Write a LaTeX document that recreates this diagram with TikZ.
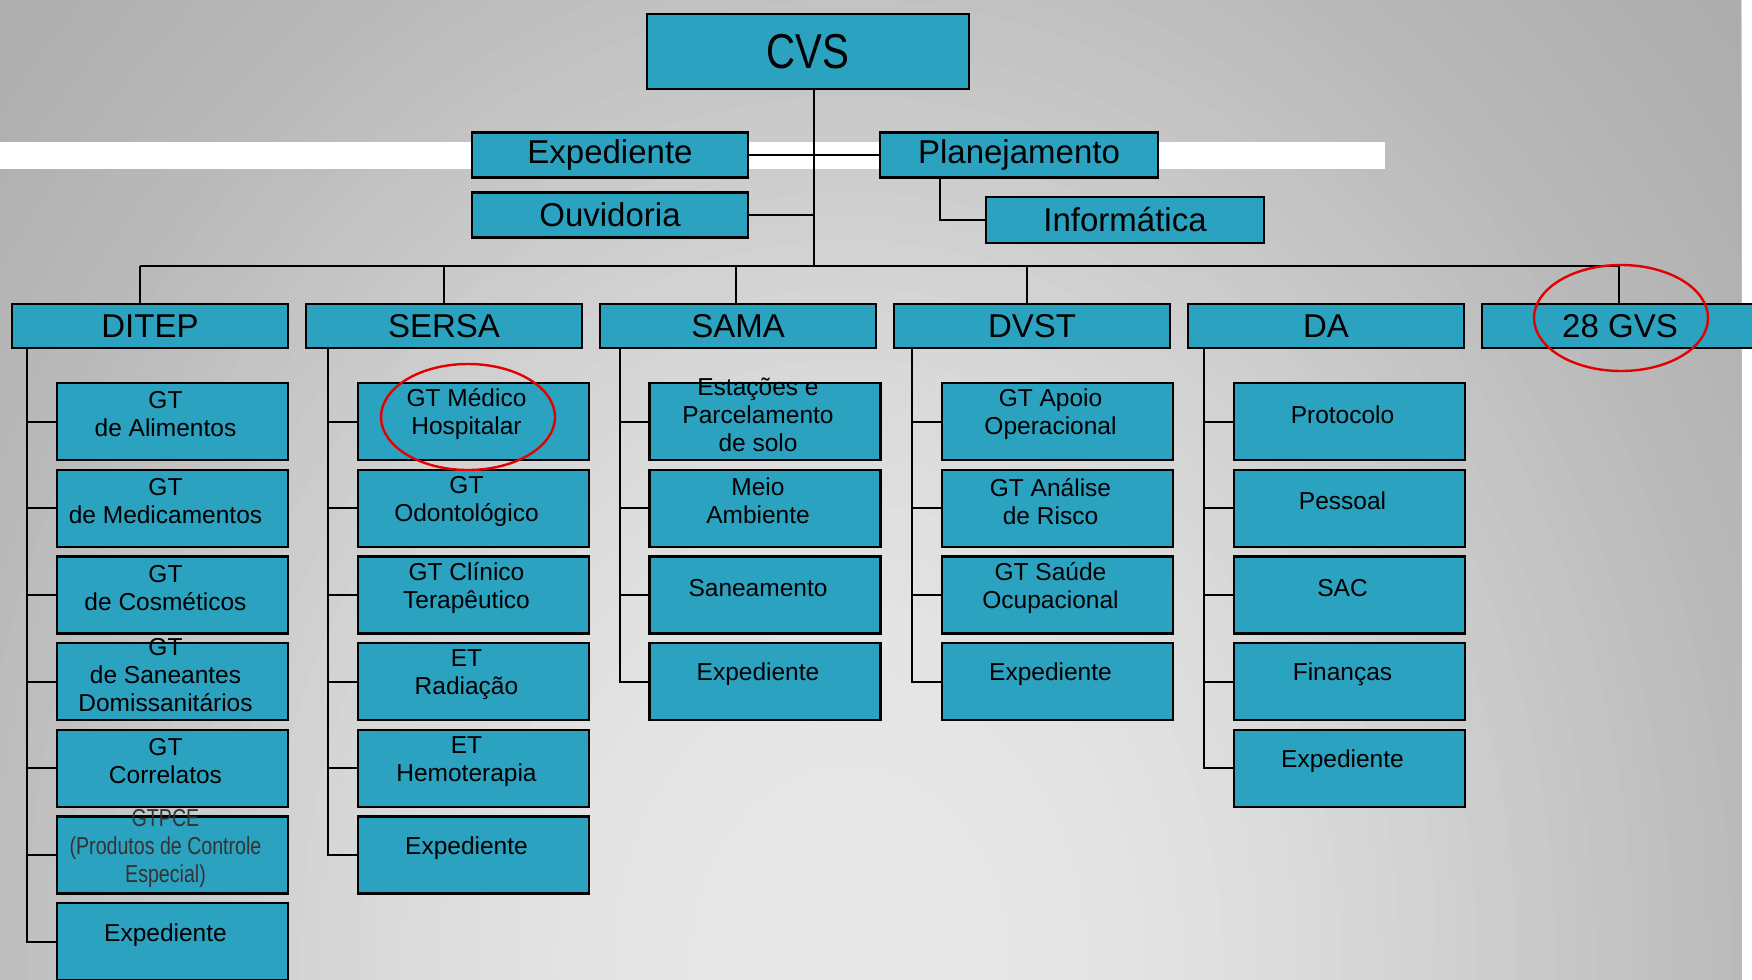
\documentclass[tikz,border=0pt]{standalone}
\usepackage{fontspec}
\setmainfont{Liberation Sans}
\newfontfamily\narrowfont[FakeStretch=0.8]{Liberation Sans}
\newfontfamily\chieffont[FakeStretch=0.82]{Liberation Sans}
\usetikzlibrary{positioning}

\definecolor{orgteal}{HTML}{2BA2C0}

% text of a unit box, a bit up and left of the centre
\newcommand{\unittext}[1]{\parbox[c][77pt][c]{231pt}{\centering
  \rightskip=14pt plus 1fil\relax #1\par\vspace{14pt}}}

\begin{document}
\begin{tikzpicture}[x=1pt, y=-1pt]
\tikzstyle{chief}=[draw=black, line width=2.2pt, fill=orgteal, outer sep=0pt, inner sep=0pt, minimum width=322pt, minimum height=75pt, font=\chieffont\fontsize{49}{52}\selectfont]
\tikzstyle{staff}=[draw=black, line width=2.2pt, fill=orgteal, outer sep=0pt, inner sep=0pt, minimum width=276pt, minimum height=45pt, node distance=15pt, font=\fontsize{33}{36}\selectfont]
\tikzstyle{dept}=[staff, minimum height=44pt, node distance=18pt]
\tikzstyle{unit}=[draw=black, line width=2.2pt, fill=orgteal, outer sep=0pt, inner sep=0pt, minimum width=231pt, minimum height=77pt, node distance=9.7pt, font=\fontsize{24.5}{28}\selectfont]
\tikzstyle{link}=[line width=2pt]
\tikzstyle{thinlink}=[line width=1.2pt]
\tikzstyle{ring}=[draw=red!90!black, line width=2.4pt]
  \useasboundingbox (0,0) rectangle (1752,979);
  % backdrop
  \fill[white] (0,0) rectangle (1752,979);
  \begin{scope}
    \clip (0,0) rectangle (1741,979);
    \fill[black!34] (0,0) rectangle (1741,979);
    \foreach \k in {65,...,1} {
      \pgfmathsetmacro\d{\k/50}
      \pgfmathsetmacro\rx{\d*980}
      \pgfmathsetmacro\ry{\d*1200}
      \pgfmathtruncatemacro\L{168+64*exp(-((\d/0.85)^2.5))}
      \definecolor{bgtone}{RGB}{\L,\L,\L}
      \fill[bgtone] (850,960) ellipse [x radius=\rx pt, y radius=\ry pt];
    }
  \end{scope}
  \fill[white] (0,142) rectangle (1385,169);

  % top of the chart
  \node[chief] (cvs) at (808,51.5) {CVS};
  \node[staff] (exped) at (610,155) {Expediente};
  \node[staff] (ouvid) [below=of exped] {Ouvidoria};
  \node[staff, minimum width=278pt] (plan) at (1019,155) {Planejamento};
  \node[staff, minimum width=278pt, minimum height=46pt] (info) at (1125,220) {Informática};
  \coordinate (bus) at (814,266);

  % departments
  \node[dept] (ditep) at (150,326) {DITEP};
  \node[dept] (sersa) [right=of ditep] {SERSA};
  \node[dept] (sama) [right=of sersa] {SAMA};
  \node[dept] (dvst) [right=of sama] {DVST};
  \node[dept] (da) [right=of dvst] {DA};
  \node[dept] (gvs) [right=of da] {28 GVS};

  % DITEP
  \node[unit] (ditep1) at (172.5,421.5) {\unittext{GT\\ de Alimentos}};
  \node[unit] (ditep2) [below=of ditep1] {\unittext{GT\\ de Medicamentos}};
  \node[unit] (ditep3) [below=of ditep2] {\unittext{GT\\ de Cosméticos}};
  \node[unit] (ditep4) [below=of ditep3] {\unittext{GT\\ de Saneantes\\ Domissanitários}};
  \node[unit] (ditep5) [below=of ditep4] {\unittext{GT\\ Correlatos}};
  \node[unit] (ditep6) [below=of ditep5] {\unittext{\narrowfont\color{black!80}GTPCE\\ (Produtos de Controle\\ Especial)}};
  \node[unit] (ditep7) [below=of ditep6] {\unittext{Expediente}};
  % SERSA
  \node[unit] (sersa1) at (473.5,421.5) {\unittext{GT Médico\\ Hospitalar}};
  \node[unit] (sersa2) [below=of sersa1] {\unittext{GT\\ Odontológico}};
  \node[unit] (sersa3) [below=of sersa2] {\unittext{GT Clínico\\ Terapêutico}};
  \node[unit] (sersa4) [below=of sersa3] {\unittext{ET\\ Radiação}};
  \node[unit] (sersa5) [below=of sersa4] {\unittext{ET\\ Hemoterapia}};
  \node[unit] (sersa6) [below=of sersa5] {\unittext{Expediente}};
  % SAMA
  \node[unit] (sama1) at (765,421.5) {\unittext{Estações e\\ Parcelamento\\ de solo}};
  \node[unit] (sama2) [below=of sama1] {\unittext{Meio\\ Ambiente}};
  \node[unit] (sama3) [below=of sama2] {\unittext{Saneamento}};
  \node[unit] (sama4) [below=of sama3] {\unittext{Expediente}};
  % DVST
  \node[unit] (dvst1) at (1057.5,421.5) {\unittext{GT Apoio\\ Operacional}};
  \node[unit] (dvst2) [below=of dvst1] {\unittext{GT Análise\\ de Risco}};
  \node[unit] (dvst3) [below=of dvst2] {\unittext{GT Saúde\\ Ocupacional}};
  \node[unit] (dvst4) [below=of dvst3] {\unittext{Expediente}};
  % DA
  \node[unit] (da1) at (1349.5,421.5) {\unittext{Protocolo}};
  \node[unit] (da2) [below=of da1] {\unittext{Pessoal}};
  \node[unit] (da3) [below=of da2] {\unittext{SAC}};
  \node[unit] (da4) [below=of da3] {\unittext{Finanças}};
  \node[unit] (da5) [below=of da4] {\unittext{Expediente}};

  % connectors at the top
  \draw[thinlink] ([xshift=6pt]cvs.south) -- (bus);
  \path (exped.east) edge [link] (exped.east -| plan.west)
        (ouvid.east) edge [link] (ouvid.east -| bus);
  \draw[link] ([xshift=60pt]plan.south west) |- (info.west);
  \draw[link] ([xshift=-10pt]ditep.north |- bus) -- ([xshift=-1pt]gvs.north |- bus);
  \draw[thinlink] ([xshift=-10pt]ditep.north) -- ([xshift=-10pt]ditep.north |- bus);
  \draw[thinlink] (sersa.north) -- (sersa.north |- bus);
  \draw[thinlink] ([xshift=-2pt]sama.north) -- ([xshift=-2pt]sama.north |- bus);
  \draw[thinlink] ([xshift=-5pt]dvst.north) -- ([xshift=-5pt]dvst.north |- bus);
  \draw[thinlink] ([xshift=-1pt]gvs.north) -- ([xshift=-1pt]gvs.north |- bus);

  % trunks of the columns
  \foreach \col/\n in {ditep/7, sersa/6, sama/4, dvst/4, da/5} {
    \coordinate (\col T) at ([xshift=-30pt]\col1.west |- \col.south);
    \foreach \i in {1,...,\n}
      \draw[link] (\col T) |- (\col\i.west);
  }

  % marks in red
  \draw[ring] (468,417) ellipse [x radius=87pt, y radius=53pt];
  \draw[ring] (1621,318) ellipse [x radius=87pt, y radius=53pt];
\end{tikzpicture}
\end{document}
